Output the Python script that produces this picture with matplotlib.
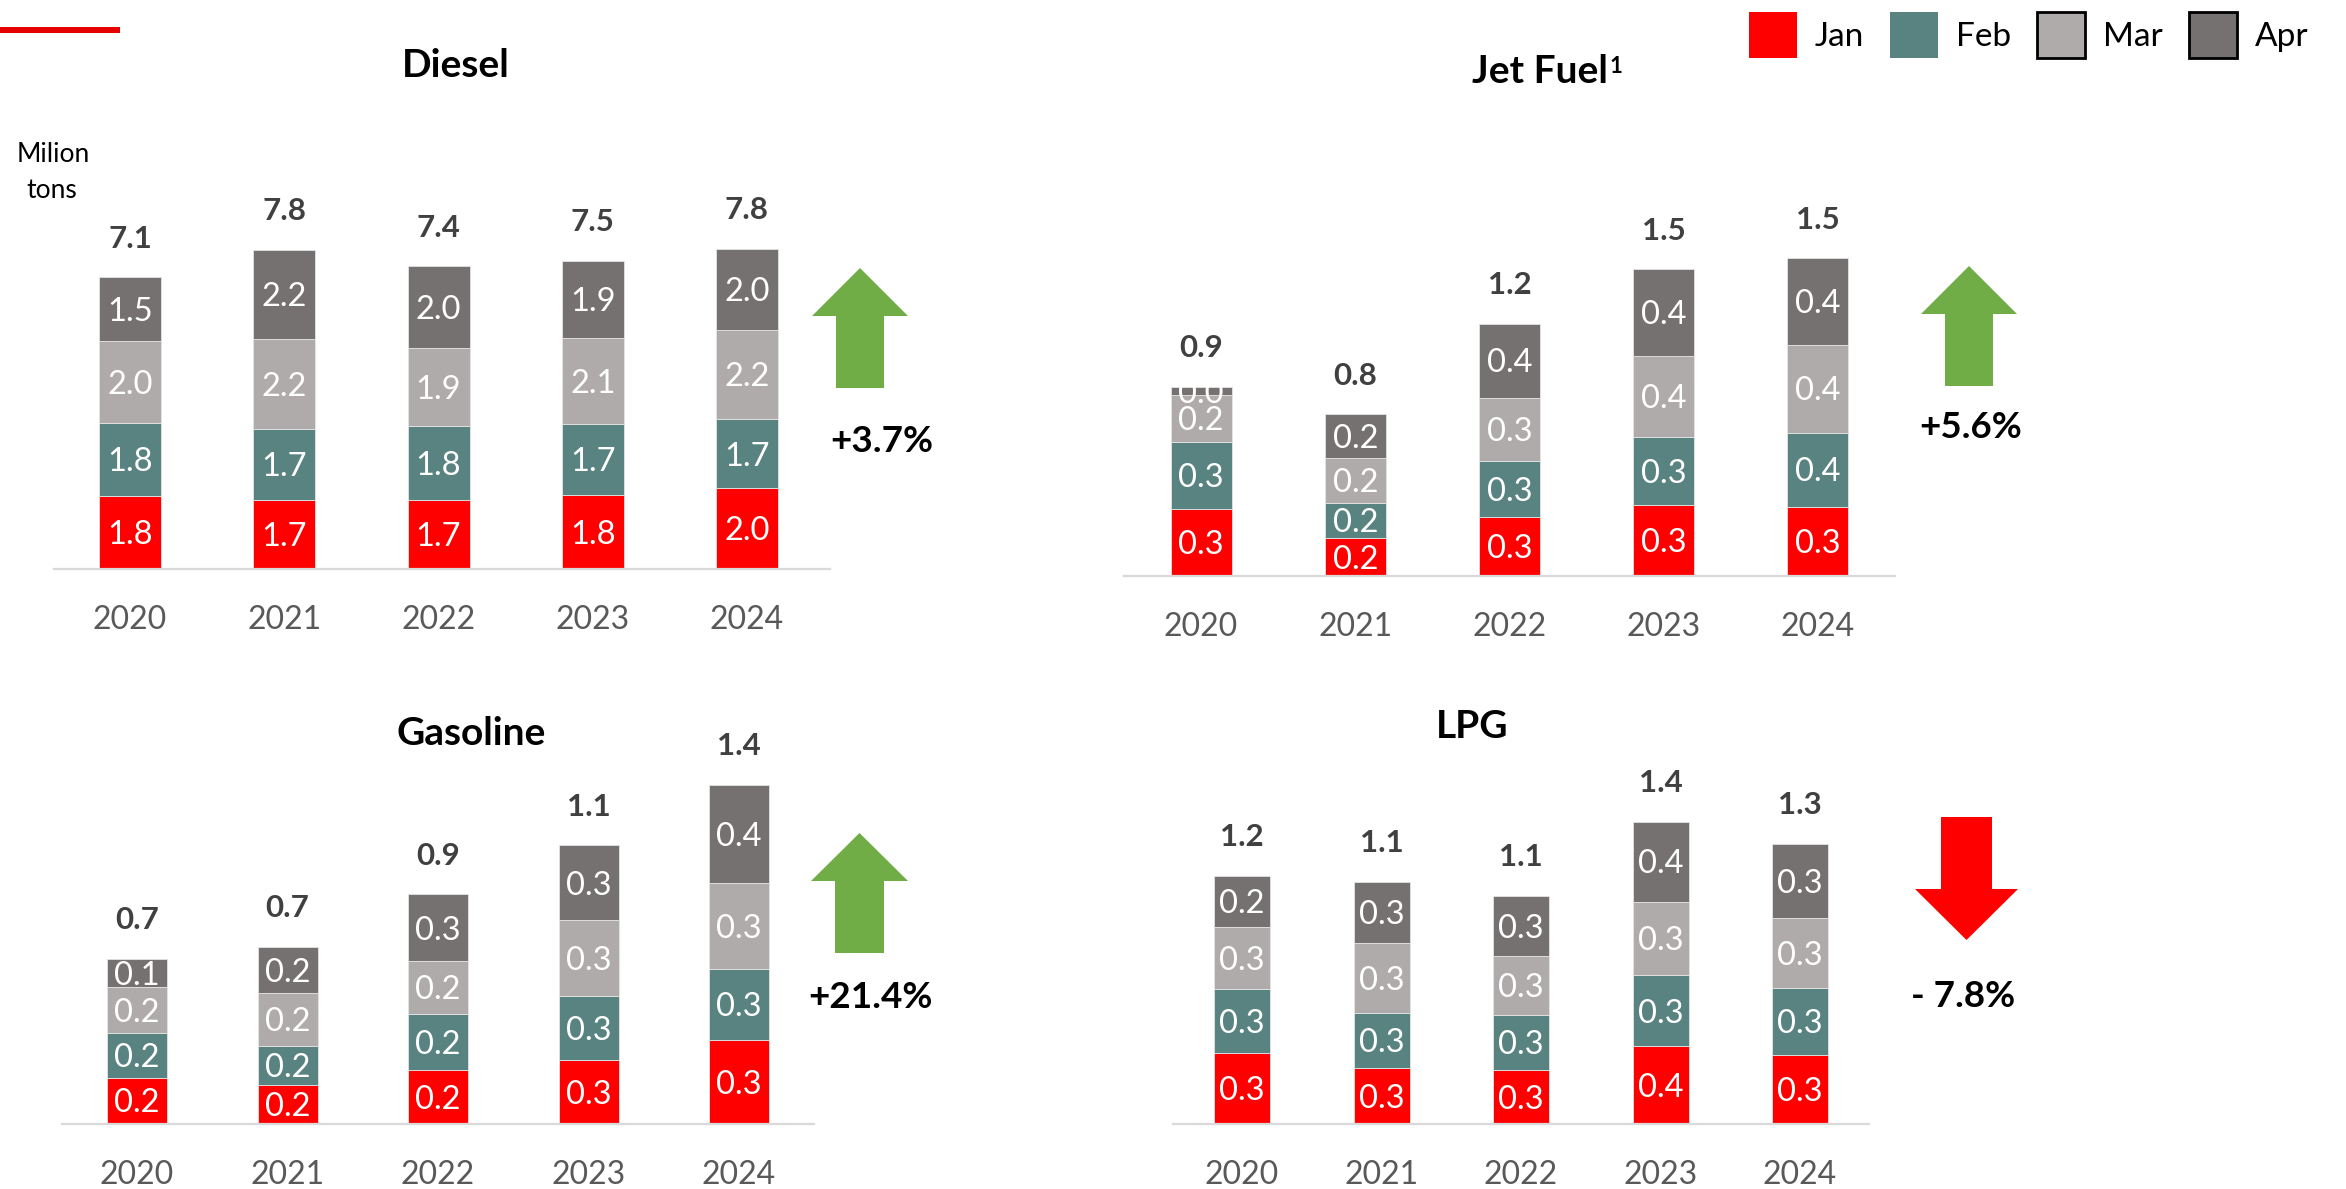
import matplotlib
matplotlib.use('Agg')
import matplotlib.pyplot as plt
from matplotlib.patches import Rectangle, Polygon, Patch
from matplotlib.transforms import offset_copy
import numpy as np

plt.rcParams['font.family'] = ['Lato', 'DejaVu Sans']

# ---------------- data ----------------
years = ['2020', '2021', '2022', '2023', '2024']
months = ['Jan', 'Feb', 'Mar', 'Apr']

diesel_jan = [1.77, 1.67, 1.69, 1.79, 1.96]
diesel_feb = [1.78, 1.74, 1.78, 1.74, 1.68]
diesel_mar = [2.01, 2.18, 1.90, 2.09, 2.18]
diesel_apr = [1.54, 2.17, 2.00, 1.88, 1.98]

jet_jan = [0.32, 0.18, 0.28, 0.34, 0.33]
jet_feb = [0.32, 0.17, 0.27, 0.32, 0.352]
jet_mar = [0.22, 0.21, 0.30, 0.39, 0.42]
jet_apr = [0.04, 0.21, 0.352, 0.41, 0.41]

gas_jan = [0.187, 0.157, 0.216, 0.259, 0.340]
gas_feb = [0.179, 0.158, 0.228, 0.256, 0.285]
gas_mar = [0.187, 0.213, 0.212, 0.306, 0.346]
gas_apr = [0.113, 0.187, 0.270, 0.303, 0.397]

lpg_jan = [0.333, 0.261, 0.252, 0.363, 0.322]
lpg_feb = [0.298, 0.256, 0.258, 0.331, 0.313]
lpg_mar = [0.288, 0.328, 0.275, 0.345, 0.328]
lpg_apr = [0.241, 0.288, 0.281, 0.373, 0.345]

titles = ['Diesel', 'Jet Fuel', 'Gasoline', 'LPG']
changes = ['+3.7%', '+5.6%', '+21.4%', '- 7.8%']

colors = {'Jan': '#FF0000', 'Feb': '#588380', 'Mar': '#AFABAB', 'Apr': '#767171'}
GREEN = '#70AD47'
RED = '#FF0000'

# ---------------- figure ----------------
W, H = 2346, 1189
fig = plt.figure(figsize=(W / 100, H / 100), dpi=100)

ov = fig.add_axes([0, 0, 1, 1])
ov.set_xlim(0, W)
ov.set_ylim(H, 0)
ov.axis('off')

SEG_FS = 23.5
TOT_FS = 22.5
YEAR_FS = 23


def panel(x0, x1, base, c0, spacing, width_px, ppu, series):
    span = 430
    ax = fig.add_axes([x0 / W, 1 - base / H, (x1 - x0) / W, span / H])
    x = np.arange(len(years))
    ax.set_xlim((x0 - c0) / spacing, (x1 - c0) / spacing)
    ax.set_ylim(0, span / ppu)
    ax.axis('off')
    bottoms = np.zeros(len(years))
    seg_tr = offset_copy(ax.transData, fig=fig, y=-0.358 * SEG_FS, units='points')
    width = width_px / spacing
    for m, vals in zip(months, series):
        vals = np.asarray(vals, dtype=float)
        ax.bar(x, vals, width, bottom=bottoms, color=colors[m],
               edgecolor='#E4E4E4', linewidth=0.6)
        for xi, b, v in zip(x, bottoms, vals):
            ax.text(xi, b + v / 2, f'{v:.1f}', transform=seg_tr, ha='center',
                    va='baseline', color='white', fontsize=SEG_FS)
        bottoms = bottoms + vals
    tot_tr = offset_copy(ax.transData, fig=fig, y=21.4, units='points')
    for xi, t in zip(x, bottoms):
        ax.text(xi, t, f'{t:.1f}', transform=tot_tr, ha='center', va='baseline',
                color='#404040', fontsize=TOT_FS, fontweight='bold')
    ax.axhline(0, color='#D9D9D9', lw=1.6, clip_on=False)
    yr_tr = offset_copy(ax.transData, fig=fig, y=-43.5, units='points')
    for xi, yr in zip(x, years):
        ax.text(xi, 0, yr, transform=yr_tr, ha='center', va='baseline',
                color='#595959', fontsize=YEAR_FS)
    return ax


panel(54, 830, 569, 130, 154.25, 62, 41.08,
      [diesel_jan, diesel_feb, diesel_mar, diesel_apr])
panel(1124, 1895, 576, 1201, 154.25, 61, 210.0,
      [jet_jan, jet_feb, jet_mar, jet_apr])
panel(62, 814, 1124, 137, 150.5, 60, 248.0,
      [gas_jan, gas_feb, gas_mar, gas_apr])
panel(1173, 1869, 1124, 1242, 139.5, 56, 214.0,
      [lpg_jan, lpg_feb, lpg_mar, lpg_apr])

# ---------------- titles & annotations ----------------
TITLE_FS = 28
ov.text(456, 77, titles[0], ha='center', va='baseline', fontsize=TITLE_FS,
        fontweight='bold', color='black')
jt = ov.text(1472, 83, titles[1], ha='left', va='baseline', fontsize=TITLE_FS,
             fontweight='bold', color='black')
ov.annotate('1', xy=(1, 0), xycoords=jt, xytext=(1.0, 11.5), textcoords='offset points',
            ha='left', va='baseline', fontsize=16, fontweight='bold', color='black')
ov.text(471, 745, titles[2], ha='center', va='baseline', fontsize=TITLE_FS,
        fontweight='bold', color='black')
ov.text(1472, 738, titles[3], ha='center', va='baseline', fontsize=TITLE_FS,
        fontweight='bold', color='black')

ov.text(53, 162, 'Milion', ha='center', va='baseline', fontsize=19, color='black')
ov.text(52, 198, 'tons', ha='center', va='baseline', fontsize=19, color='black')

ov.add_patch(Rectangle((0, 27), 120, 6, facecolor='#E60000', edgecolor='none'))

PCT_FS = 26.5
ov.text(882, 452, changes[0], ha='center', va='baseline', fontsize=PCT_FS, fontweight='bold')
ov.text(1971, 438, changes[1], ha='center', va='baseline', fontsize=PCT_FS, fontweight='bold')
ov.text(870, 1008, changes[2], ha='center', va='baseline', fontsize=PCT_FS, fontweight='bold')
ov.text(1963, 1007, changes[3], ha='center', va='baseline', fontsize=PCT_FS, fontweight='bold')


def up_arrow(xl, xr, sl, sr, tip, hb, bot, color):
    cx = (xl + xr) / 2
    pts = [(cx, tip), (xr, hb), (sr, hb), (sr, bot), (sl, bot), (sl, hb), (xl, hb)]
    ov.add_patch(Polygon(pts, closed=True, facecolor=color, edgecolor='none'))


def down_arrow(xl, xr, sl, sr, top, hb, tip, color):
    cx = (xl + xr) / 2
    pts = [(sl, top), (sr, top), (sr, hb), (xr, hb), (cx, tip), (xl, hb), (sl, hb)]
    ov.add_patch(Polygon(pts, closed=True, facecolor=color, edgecolor='none'))


up_arrow(812, 908, 836, 884, 268, 316, 388, GREEN)
up_arrow(1921, 2017, 1945, 1993, 266, 314, 386, GREEN)
up_arrow(811, 908, 835, 884, 833, 881, 953, GREEN)
down_arrow(1915, 2018, 1941, 1992, 817, 889, 940, RED)

# ---------------- legend ----------------
handles = [
    Patch(facecolor=colors['Jan'], edgecolor='none'),
    Patch(facecolor=colors['Feb'], edgecolor='none'),
    Patch(facecolor=colors['Mar'], edgecolor='black', linewidth=2),
    Patch(facecolor=colors['Apr'], edgecolor='black', linewidth=2),
]
fig.legend(handles, months, loc='upper left', bbox_to_anchor=(1749 / W, 1 - 12 / H),
           ncol=4, frameon=False, fontsize=24, handlelength=1.44, handleheight=1.75,
           handletextpad=0.54, columnspacing=0.78, borderpad=0, borderaxespad=0)

fig.savefig('out.png', dpi=100)
